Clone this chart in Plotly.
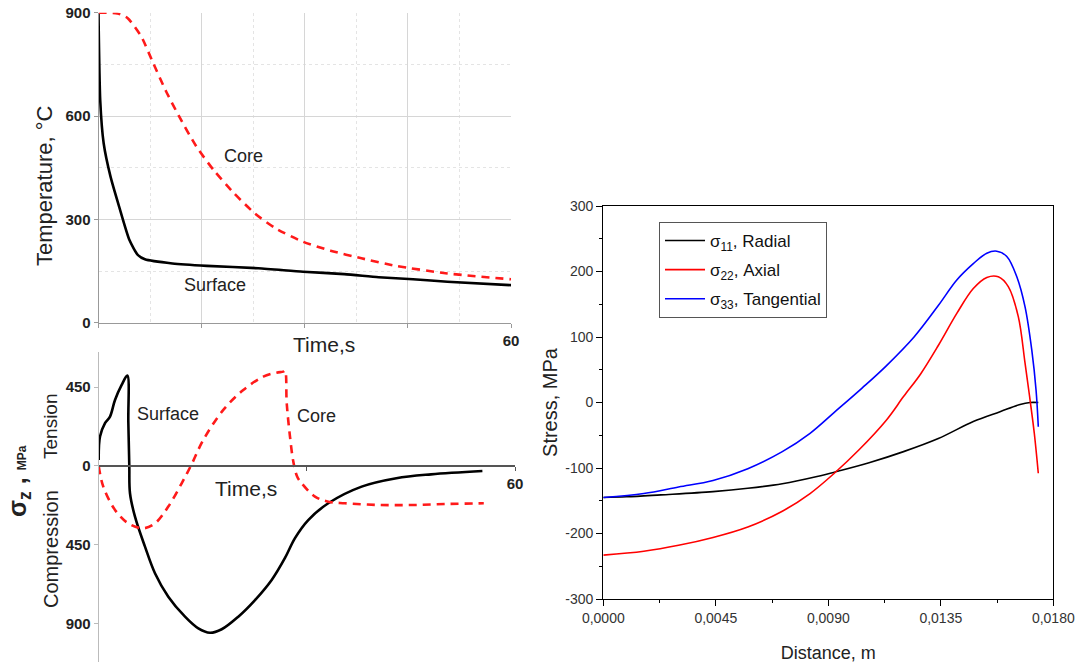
import plotly.graph_objects as go

# ---------------- Panel 1: temperature vs time ----------------
t_surf = [0, 0.25, 0.75, 1.75, 3, 4.5, 5.75, 6.75, 10.75, 15.75, 23.25, 29.75, 35.75, 40.75, 45.75, 50.75, 60]
T_surf = [898, 646, 521, 424, 337, 240, 196, 184, 172, 165, 158, 148, 141, 132, 126, 119, 109]
t_core = [0, 2.75, 4.25, 6.25, 7.75, 9.75, 11.75, 14.25, 16.75, 19.75, 22.75, 25.75, 29.75, 33.75, 38.25, 43.25, 50.75, 60]
T_core = [900, 898, 884, 830, 763, 675, 598, 511, 443, 375, 317, 274, 235, 209, 187, 165, 143, 126]

# ---------------- Panel 2: axial stress vs time ----------------
ts_surf = [0, 0.19, 0.91, 1.63, 2.35, 3.31, 4.12, 4.27, 4.41, 4.51, 5.23, 6.67, 8.11, 10.03, 12.44, 14.36,
           16.04, 17.73, 20.12, 22.53, 24.93, 26.85, 28.29, 30.2, 33.09, 37.9, 42.9, 47.9, 55.3]
s_surf = [34, 168, 244, 282, 377, 463, 516, 250, 0, -156, -290, -461, -613, -747, -861, -928,
          -953, -933, -861, -766, -651, -525, -412, -309, -213, -118, -70, -48, -29]
ts_core = [0, 0.66, 2.35, 4.27, 6.43, 8.11, 10.03, 11.96, 13.4, 15.08, 17.96, 20.84, 23.72, 25.65, 26.6,
           26.85, 27.1, 27.57, 28.05, 28.6, 29.25, 31.17, 33.1, 35.5, 40.4, 45.4, 50.4, 55.5]
s_core = [0, -118, -251, -328, -356, -328, -232, -99, 10, 149, 320, 434, 510, 533, 539,
          545, 358, 168, 25, -60, -99, -175, -204, -213, -223, -223, -217, -213]
stress_ticks = [450, 0, -450, -900]
stress_ticktext = ["450", "0", "450", "900"]

# ---------------- Panel 3: stress vs distance ----------------
d_rad = [0, 0.00093, 0.00231, 0.00439, 0.00578, 0.00716, 0.00855, 0.00938, 0.01063, 0.01201, 0.0134, 0.0148, 0.01587, 0.01667, 0.01707, 0.0174]
s_rad = [-145, -144, -141, -136, -131, -124, -113, -105, -92, -75, -55, -29, -14, -3, 0, 0]
d_ax = [0, 0.00162, 0.00301, 0.00439, 0.00578, 0.00716, 0.00827, 0.00924, 0.01021, 0.01132, 0.01201, 0.0127,
        0.0134, 0.01414, 0.0148, 0.01534, 0.0158, 0.0162, 0.0166, 0.01687, 0.01707, 0.01724, 0.0174]
s_ax = [-233, -227, -218, -206, -190, -166, -139, -108, -73, -27, 9, 44,
        87, 136, 174, 191, 192, 177, 131, 60, 4, -47, -108]
d_tan = [0, 0.00162, 0.00301, 0.00439, 0.00578, 0.00716, 0.00827, 0.00924, 0.01035, 0.01132, 0.01243,
         0.0134, 0.01414, 0.0148, 0.01534, 0.01574, 0.01614, 0.01654, 0.01687, 0.01714, 0.01731, 0.0174]
s_tan = [-145, -139, -129, -119, -101, -75, -47, -15, 22, 56, 100,
         148, 187, 212, 228, 231, 223, 192, 146, 80, 19, -37]
dist_ticks = [0, 0.0045, 0.009, 0.0135, 0.018]
dist_ticktext = [f"{v:.4f}".replace(".", ",") for v in dist_ticks]
s3_ticks = [-300, -200, -100, 0, 100, 200, 300]
s3_ticktext = [str(v) for v in s3_ticks]

FONT = "Liberation Sans, Arial, sans-serif"
W, H = 1083, 664

def px(x):
    return x / W

def py(y):
    return 1 - y / H

fig = go.Figure()

smooth1 = dict(shape="spline", smoothing=0.6)
smooth2 = dict(shape="spline", smoothing=1.0)
# panel 1
fig.add_trace(go.Scatter(x=t_surf, y=T_surf, xaxis="x", yaxis="y", mode="lines",
                         line=dict(color="black", width=2.6, **smooth1), showlegend=False))
fig.add_trace(go.Scatter(x=t_core, y=T_core, xaxis="x", yaxis="y", mode="lines",
                         line=dict(color="#ff1a1a", width=2.6, dash="8px,6px", **smooth1), showlegend=False))
# panel 2
fig.add_trace(go.Scatter(x=ts_surf, y=s_surf, xaxis="x2", yaxis="y2", mode="lines",
                         line=dict(color="black", width=2.6, **smooth2), showlegend=False))
fig.add_trace(go.Scatter(x=ts_core, y=s_core, xaxis="x2", yaxis="y2", mode="lines",
                         line=dict(color="#ff1a1a", width=2.6, dash="8px,6px", **smooth2),
                         showlegend=False))
# panel 3
fig.add_trace(go.Scatter(x=d_rad, y=s_rad, xaxis="x3", yaxis="y3", mode="lines", name="σ<sub>11</sub>, Radial",
                         legendgroup="a", line=dict(color="black", width=1.6, **smooth2)))
fig.add_trace(go.Scatter(x=d_ax, y=s_ax, xaxis="x3", yaxis="y3", mode="lines", name="σ<sub>22</sub>, Axial",
                         legendgroup="b", line=dict(color="red", width=1.6, **smooth2)))
fig.add_trace(go.Scatter(x=d_tan, y=s_tan, xaxis="x3", yaxis="y3", mode="lines", name="σ<sub>33</sub>, Tangential",
                         legendgroup="c", line=dict(color="blue", width=1.6, **smooth2)))

boldtick = dict(family=FONT, size=15, color="#222", weight="bold")
tick3 = dict(family=FONT, size=14, color="#333")

fig.update_layout(
    width=W, height=H,
    margin=dict(l=0, r=0, t=0, b=0, autoexpand=False),
    paper_bgcolor="white", plot_bgcolor="white",
    font=dict(family=FONT, color="#222"),
    xaxis=dict(domain=[px(98.5), px(511)], range=[0, 60], anchor="y", automargin=False,
               tickmode="array", tickvals=[0, 15, 30, 45, 60], ticktext=["", "", "", "", "60"],
               tickfont=boldtick, showgrid=True, gridcolor="#d6d6d6", gridwidth=1,
               minor=dict(dtick=7.5, showgrid=True, gridcolor="#e4e4e4", griddash="dot"),
               showline=True, linecolor="#999", ticks="outside", ticklen=4, tickcolor="#999",
               zeroline=False),
    yaxis=dict(domain=[py(322.7), py(12.7)], range=[0, 900], anchor="x", automargin=False,
               tickmode="array", tickvals=[0, 300, 600, 900], ticktext=["0", "300", "600", "900"],
               tickfont=boldtick, showgrid=True, gridcolor="#d6d6d6",
               minor=dict(dtick=150, showgrid=True, gridcolor="#e4e4e4", griddash="dot"),
               showline=True, linecolor="#999", ticks="outside", ticklen=4, tickcolor="#999",
               zeroline=False),
    xaxis2=dict(domain=[px(98.7), px(515)], range=[0, 60], anchor="free", position=py(466), automargin=False,
                tickmode="array", tickvals=[30, 60], ticktext=["", "60"], tickfont=boldtick,
                showline=True, linecolor="#555", linewidth=2, ticks="outside", ticklen=4,
                tickcolor="#555", showgrid=False, zeroline=False),
    yaxis2=dict(domain=[py(662), py(352)], range=[-1120, 651], anchor="x2", automargin=False,
                tickmode="array", tickvals=stress_ticks, ticktext=stress_ticktext, tickfont=boldtick,
                showline=True, linecolor="#bbb", linewidth=1, ticks="outside", ticklen=4,
                tickcolor="#bbb", showgrid=False, zeroline=False),
    xaxis3=dict(domain=[px(603.3), px(1053.3)], range=[0, 0.018], anchor="y3", automargin=False,
                tickmode="array", tickvals=dist_ticks, ticktext=dist_ticktext, tickfont=tick3,
                minor=dict(dtick=0.00225, ticks="outside", ticklen=3, tickcolor="black"),
                showline=True, mirror=True, linecolor="black", linewidth=1.2,
                ticks="outside", ticklen=6, tickcolor="black", showgrid=False, zeroline=False,
                title=dict(text="Distance, m", font=dict(family=FONT, size=18, color="#222"), standoff=21)),
    yaxis3=dict(domain=[py(599), py(206)], range=[-300, 300], anchor="x3", automargin=False,
                tickmode="array", tickvals=s3_ticks, ticktext=s3_ticktext, tickfont=tick3,
                minor=dict(dtick=50, ticks="outside", ticklen=3, tickcolor="black"),
                showline=True, mirror=True, linecolor="black", linewidth=1.2,
                ticks="outside", ticklen=6, tickcolor="black", showgrid=False, zeroline=False,
                title=dict(text="Stress, MPa", font=dict(family=FONT, size=20, color="#222"), standoff=2)),
    legend=dict(x=px(659), y=py(222), xanchor="left", yanchor="top",
                bordercolor="#555", borderwidth=1, bgcolor="white",
                font=dict(family=FONT, size=17, color="#111"),
                itemwidth=40, tracegroupgap=4),
    showlegend=True,
)

annots = [
    dict(text="Core", x=px(243.5), y=py(156), size=18, angle=0),
    dict(text="Surface", x=px(215), y=py(285), size=18, angle=0),
    dict(text="Time,s", x=px(324), y=py(344), size=21, angle=0),
    dict(text="Temperature, °C", x=px(45), y=py(186), size=22, angle=-90),
    dict(text="Surface", x=px(168), y=py(414), size=18, angle=0),
    dict(text="Core", x=px(316), y=py(416), size=18, angle=0),
    dict(text="Time,s", x=px(246), y=py(488), size=21, angle=0),
    dict(text="Tension", x=px(50), y=py(426), size=19, angle=-90),
    dict(text="Compression", x=px(51), y=py(549), size=20, angle=-90),
    dict(text="<b>σ<sub>z</sub> , <span style='font-size:12px'>MPa</span></b>", x=px(19), y=py(481), size=25, angle=-90),
]
for a in annots:
    fig.add_annotation(text=a["text"], x=a["x"], y=a["y"], xref="paper", yref="paper",
                       showarrow=False, textangle=a["angle"], xanchor="center", yanchor="middle",
                       font=dict(family=FONT, size=a["size"], color="#222"))

fig.write_html("out.html", config={"displayModeBar": False},
               post_script="document.body.style.margin='0';document.body.style.overflow='hidden';")
